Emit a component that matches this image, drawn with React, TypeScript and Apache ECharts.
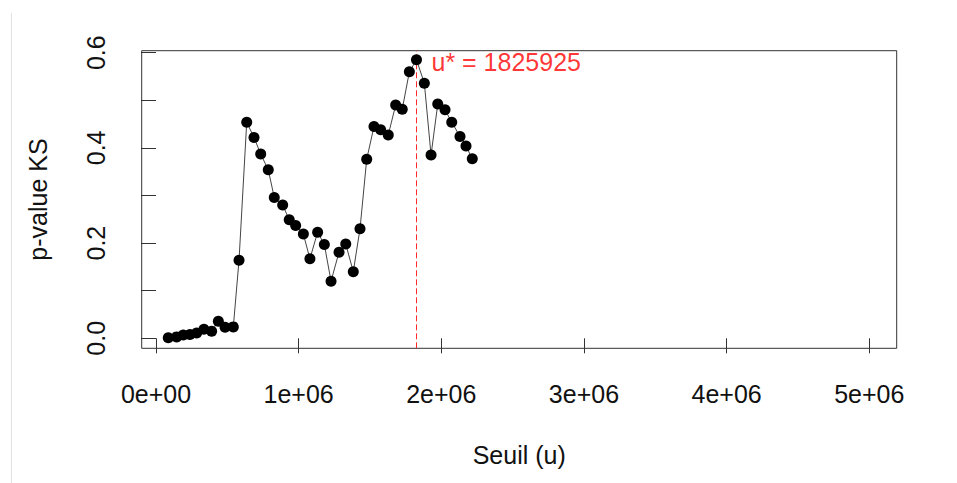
import React, { useEffect, useRef } from "react";
import * as echarts from "echarts";

const thresholds = [
  86000, 145000, 191000, 238000, 285000, 336000, 390000, 437000, 484000, 542000,
  582000, 636000, 687000, 734000, 787000, 829000, 888000, 934000, 979000, 1033000,
  1079000, 1133000, 1180000, 1227000, 1283000, 1330000, 1383000, 1430000, 1477000, 1528000,
  1575000, 1628000, 1680000, 1726000, 1776000, 1825925, 1881000, 1928000, 1975000, 2026000,
  2073000, 2131000, 2173000, 2217000,
];
const pValues = [
  0.001, 0.003, 0.007, 0.008, 0.011, 0.019, 0.015, 0.036, 0.023, 0.024,
  0.164, 0.454, 0.422, 0.387, 0.354, 0.296, 0.28, 0.249, 0.237, 0.219,
  0.167, 0.223, 0.197, 0.12, 0.181, 0.198, 0.14, 0.23, 0.376, 0.445,
  0.438, 0.427, 0.49, 0.481, 0.56, 0.585, 0.536, 0.385, 0.492, 0.48,
  0.454, 0.424, 0.404, 0.377,
];
const uStar = 1825925;
const uStarLabelY = 0.581;

const xTickValues = [0, 1000000, 2000000, 3000000, 4000000, 5000000];
const xTickLabels = ["0e+00", "1e+06", "2e+06", "3e+06", "4e+06", "5e+06"];
const yTickValues = [0, 0.1, 0.2, 0.3, 0.4, 0.5, 0.6];
const yLabelValues = [0, 0.2, 0.4, 0.6];
const yTickLabels = ["0.0", "0.2", "0.4", "0.6"];

const FONT = '"Liberation Sans", Arial, Helvetica, sans-serif';
const FS = 25;

export default function App() {
  const ref = useRef<HTMLDivElement>(null);
  useEffect(() => {
    if (!ref.current) return;
    const chart = echarts.init(ref.current, undefined, { renderer: "svg" });
    const points = thresholds.map((x, i) => [x, pValues[i]]);
    chart.setOption({
      animation: false,
      backgroundColor: "#ffffff",
      textStyle: { fontFamily: FONT },
      grid: {
        left: 141.7,
        right: 60.3,
        top: 50.7,
        bottom: 134.7,
        show: true,
        borderColor: "#333333",
        borderWidth: 1,
        backgroundColor: "transparent",
      },
      xAxis: {
        type: "value",
        min: -100200,
        max: 5192000,
        name: "Seuil (u)",
        nameLocation: "middle",
        nameGap: 94,
        nameTextStyle: { fontSize: FS, color: "#111", fontFamily: FONT },
        axisLine: { show: false },
        splitLine: { show: false },
        axisTick: {
          show: true,
          length: 15,
          customValues: xTickValues,
          lineStyle: { color: "#333", width: 1 },
        },
        axisLabel: {
          customValues: xTickValues,
          margin: 33,
          fontSize: FS,
          color: "#111",
          fontFamily: FONT,
          formatter: (v: number) => {
            const i = xTickValues.indexOf(v);
            return i >= 0 ? xTickLabels[i] : "";
          },
        },
      },
      yAxis: {
        type: "value",
        min: -0.021,
        max: 0.6042,
        name: "p-value KS",
        nameLocation: "middle",
        nameGap: 91,
        nameRotate: 90,
        nameTextStyle: { fontSize: FS, color: "#111", fontFamily: FONT },
        axisLine: { show: false },
        splitLine: { show: false },
        axisTick: {
          show: true,
          length: 15,
          customValues: yTickValues,
          lineStyle: { color: "#333", width: 1 },
        },
        axisLabel: {
          customValues: yLabelValues,
          rotate: 90,
          margin: 33,
          fontSize: FS,
          color: "#111",
          fontFamily: FONT,
          formatter: (v: number) => {
            const i = yLabelValues.findIndex((t) => Math.abs(t - v) < 1e-9);
            return i >= 0 ? yTickLabels[i] : "";
          },
        },
      },
      graphic: [
        {
          type: "line",
          shape: { x1: 11.5, y1: 13, x2: 11.5, y2: 483 },
          style: { stroke: "#e2e2e2", lineWidth: 1 },
          silent: true,
        },
      ],
      series: [
        {
          type: "line",
          data: points,
          symbol: "circle",
          symbolSize: 11,
          showSymbol: true,
          itemStyle: { color: "#000000" },
          lineStyle: { color: "#444444", width: 1 },
          z: 3,
          markLine: {
            silent: true,
            symbol: "none",
            label: { show: false },
            lineStyle: { color: "#ff2a2a", type: [6, 3], width: 1 },
            data: [{ xAxis: uStar }],
            z: 2,
          },
        },
        {
          type: "scatter",
          data: [[uStar, uStarLabelY]],
          symbolSize: 0,
          silent: true,
          label: {
            show: true,
            position: "right",
            distance: 15,
            formatter: "u* = " + uStar,
            color: "#ff0000",
            fontSize: FS,
            fontFamily: FONT,
          },
          z: 4,
        },
      ],
    });
    return () => chart.dispose();
  }, []);
  return (
    <div
      ref={ref}
      style={{ position: "absolute", left: 0, top: 0, width: 957, height: 483 }}
    />
  );
}
